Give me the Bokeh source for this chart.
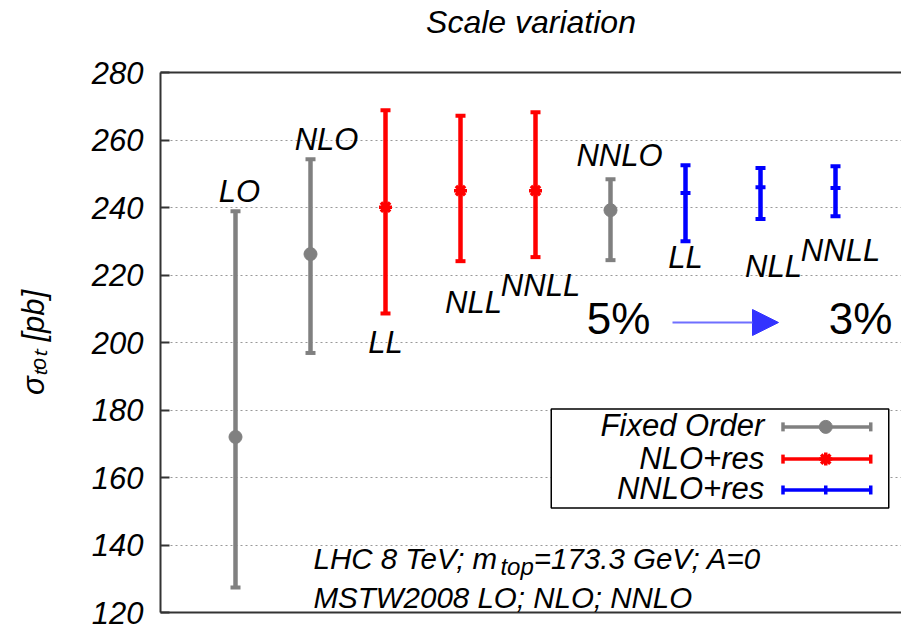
import math
from bokeh.plotting import figure
from bokeh.models import (Range1d, FixedTicker, LinearAxis, Label, Arrow,
                          NormalHead, ColumnDataSource)
from bokeh.core.properties import value
from bokeh.embed import file_html
from bokeh.resources import INLINE

# ---------------- data ----------------
fo_x = [1, 2, 6]
fo_names = ["LO", "NLO", "NNLO"]
fo_central = [172.0, 226.2, 239.2]
fo_low = [127.4, 196.9, 224.4]
fo_high = [238.9, 254.3, 248.4]

nlo_x = [3, 4, 5]
nlo_names = ["LL", "NLL", "NNLL"]
nlo_central = [240.1, 245.0, 245.0]
nlo_low = [208.6, 224.1, 225.3]
nlo_high = [268.8, 267.2, 268.2]

nnlo_x = [7, 8, 9]
nnlo_names = ["LL", "NLL", "NNLL"]
nnlo_central = [244.3, 246.0, 245.8]
nnlo_low = [230.0, 236.6, 237.4]
nnlo_high = [252.5, 251.7, 252.2]

y_ticks = [120, 140, 160, 180, 200, 220, 240, 260, 280]
legend_labels = ["Fixed Order", "NLO+res", "NNLO+res"]
title_text = "Scale variation"
y_label = "σₜₒₜ [pb]"
info_line1 = ["LHC 8 TeV; m", "top", "=173.3 GeV; A=0"]
info_line2 = "MSTW2008 LO; NLO; NNLO"
pct_from, pct_to = "5%", "3%"

# ---------------- style ----------------
FONT = "Liberation Sans"
FS = 31
GRAY, RED, BLUE = "#808080", "#ff0000", "#0000ff"

# Helvetica/Arial advance widths (per 1000 em)
HW = {' ': 278, 'L': 556, 'H': 722, 'C': 722, '8': 556, 'T': 611, 'e': 556,
      'V': 667, ';': 278, 'm': 833, 't': 278, 'o': 556, 'p': 556,
      '=': 584, '1': 556, '7': 556, '3': 556, '.': 278, 'G': 778, 'A': 667,
      '0': 556}


def tw(s, fs):
    return sum(HW.get(ch, 556) for ch in s) * fs / 1000.0


def bfix(fs):
    # compensation for where the renderer puts the alphabetic baseline
    return round(0.36 * fs)


p = figure(width=901, height=625, x_range=Range1d(0, 9.88),
           y_range=Range1d(120, 280), output_backend="svg", title=None,
           toolbar_location=None, min_border_left=160, min_border_right=0,
           min_border_top=71, min_border_bottom=13)
p.outline_line_color = None
p.background_fill_color = "white"
p.border_fill_color = "white"

# axes (top axis carries the chart title as its label)
top_axis = LinearAxis(axis_label=title_text)
p.add_layout(top_axis, "above")
for ax in p.xaxis:
    ax.ticker = FixedTicker(ticks=[])
    ax.major_label_text_font_size = "0px"
    ax.major_tick_in = 0
    ax.major_tick_out = 0
    ax.minor_tick_in = 0
    ax.minor_tick_out = 0
    ax.major_label_standoff = 0
    ax.axis_line_width = 2
    ax.axis_line_color = "#333333"
top_axis.axis_label_standoff = 33
top_axis.axis_label_text_font = FONT
top_axis.axis_label_text_font_style = "italic"
top_axis.axis_label_text_font_size = "32px"
top_axis.axis_label_text_color = "black"

ya = p.yaxis[0]
ya.ticker = FixedTicker(ticks=y_ticks)
ya.major_tick_in = 9
ya.major_tick_out = 0
ya.minor_tick_line_color = None
ya.major_tick_line_width = 2
ya.major_tick_line_color = "#333333"
ya.axis_line_width = 2
ya.axis_line_color = "#333333"
ya.major_label_standoff = 17
ya.major_label_text_font = FONT
ya.major_label_text_font_style = "italic"
ya.major_label_text_font_size = "31px"
ya.major_label_text_color = "black"
ya.axis_label = y_label
ya.axis_label_text_font = FONT
ya.axis_label_text_font_style = "italic"
ya.axis_label_text_font_size = "31px"
ya.axis_label_text_color = "black"
ya.axis_label_standoff = 38

p.xgrid.grid_line_color = None
p.ygrid.ticker = FixedTicker(ticks=y_ticks)
p.ygrid.grid_line_color = "#999999"
p.ygrid.grid_line_dash = "2 3"
p.ygrid.grid_line_width = 1


def draw_series(xs, c, lo, hi, color, marker, msize, mlw):
    src = ColumnDataSource(dict(x=xs, c=c, lo=lo, hi=hi))
    p.segment(x0="x", y0="lo", x1="x", y1="hi", source=src, line_color=color,
              line_width=4.5)
    p.scatter(x="x", y="lo", source=src, marker="dash", size=10,
              line_color=color, line_width=4)
    p.scatter(x="x", y="hi", source=src, marker="dash", size=10,
              line_color=color, line_width=4)
    if marker == "circle":
        p.scatter(x="x", y="c", source=src, marker="circle", size=msize,
                  fill_color=color, line_color=color)
    else:
        p.scatter(x="x", y="c", source=src, marker=marker, size=msize,
                  line_color=color, line_width=mlw)


draw_series(fo_x, fo_central, fo_low, fo_high, GRAY, "circle", 13, 1)
draw_series(nlo_x, nlo_central, nlo_low, nlo_high, RED, "asterisk", 13, 3.5)
draw_series(nnlo_x, nnlo_central, nnlo_low, nnlo_high, BLUE, "dash", 10, 4)

# point labels (anchored to the error-bar ends; offsets in pixels)
LFS = 31
b = bfix(LFS)
fo_lab = ColumnDataSource(dict(x=fo_x, y=fo_high, t=fo_names,
                               dx=[4, 16, 9], dy=[-9 - b, -9 - b, -13 - b]))
nlo_lab = ColumnDataSource(dict(x=nlo_x, y=nlo_low, t=nlo_names,
                                dx=[0, 13, 5], dy=[40 - b, 52 - b, 39 - b]))
nnlo_lab = ColumnDataSource(dict(x=nnlo_x, y=nnlo_low, t=nnlo_names,
                                 dx=[0, 13, 5], dy=[27 - b, 59 - b, 45 - b]))
for src in (fo_lab, nlo_lab, nnlo_lab):
    p.text(x="x", y="y", text="t", source=src, x_offset="dx", y_offset="dy",
           text_align="center", text_baseline="alphabetic",
           text_font=value(FONT), text_font_style="italic",
           text_font_size=f"{LFS}px", text_color="black")

# legend (manual: label left, sample right)
LG_L, LG_R, LG_T, LG_B = 5.21, 9.71, 180.3, 151.0
LG_ROWS = [175.0, 165.45, 156.3]
LG_TX, LG_X0, LG_X1, LG_XM = 8.05, 8.30, 9.47, 8.87
p.quad(left=[LG_L], right=[LG_R], top=[LG_T], bottom=[LG_B],
       fill_color="white", line_color="black", line_width=1.5)
p.text(x=[LG_TX] * 3, y=LG_ROWS, text=legend_labels, y_offset=10 - bfix(FS),
       text_align="right", text_baseline="alphabetic",
       text_font=value(FONT), text_font_style="italic",
       text_font_size=f"{FS}px", text_color="black")
leg_colors = [GRAY, RED, BLUE]
leg_markers = ["circle", "asterisk", "dash"]
for yy, col, mk in zip(LG_ROWS, leg_colors, leg_markers):
    p.segment(x0=[LG_X0], y0=[yy], x1=[LG_X1], y1=[yy], line_color=col,
              line_width=3.5)
    p.scatter(x=[LG_X0, LG_X1], y=[yy, yy], marker="dash", angle=math.pi / 2,
              size=9, line_color=col, line_width=3.5)
    if mk == "circle":
        p.scatter(x=[LG_XM], y=[yy], marker="circle", size=13,
                  fill_color=col, line_color=col)
    elif mk == "asterisk":
        p.scatter(x=[LG_XM], y=[yy], marker="asterisk", size=13,
                  line_color=col, line_width=3.5)
    else:
        p.scatter(x=[LG_XM], y=[yy], marker="dash", angle=math.pi / 2,
                  size=9, line_color=col, line_width=3.5)

# percentages + arrow (screen units relative to the frame)
PFS = 44
for txt, sx in ((pct_from, 458), (pct_to, 700)):
    p.add_layout(Label(x=sx, y=278 + bfix(PFS), x_units="screen",
                       y_units="screen", text=txt, text_align="center",
                       text_baseline="alphabetic", text_font=FONT,
                       text_font_size=f"{PFS}px", text_color="black"))
p.add_layout(Arrow(x_start=512, y_start=290, x_end=618, y_end=290,
                   start_units="screen", end_units="screen",
                   line_color="#6f6fff", line_width=2,
                   end=NormalHead(size=26, fill_color="#3333ff",
                                  line_color="#3333ff")))

# info text
x0 = 153
IFS = 29.5
SFS = 24
p.add_layout(Label(x=x0, y=43 + bfix(IFS), x_units="screen", y_units="screen",
                   text=info_line1[0], text_font=FONT,
                   text_font_style="italic", text_font_size=f"{IFS}px",
                   text_baseline="alphabetic", text_color="black"))
xs = x0 + tw(info_line1[0], IFS)
p.add_layout(Label(x=xs, y=37 + bfix(SFS), x_units="screen", y_units="screen",
                   text=info_line1[1], text_font=FONT,
                   text_font_style="italic", text_font_size=f"{SFS}px",
                   text_baseline="alphabetic", text_color="black"))
xs += tw(info_line1[1], SFS)
p.add_layout(Label(x=xs, y=43 + bfix(IFS), x_units="screen", y_units="screen",
                   text=info_line1[2], text_font=FONT,
                   text_font_style="italic", text_font_size=f"{IFS}px",
                   text_baseline="alphabetic", text_color="black"))
p.add_layout(Label(x=x0, y=4 + bfix(IFS), x_units="screen", y_units="screen",
                   text=info_line2, text_font=FONT,
                   text_font_style="italic", text_font_size=f"{IFS}px",
                   text_baseline="alphabetic", text_color="black"))

open("out.html", "w").write(file_html(p, INLINE))
